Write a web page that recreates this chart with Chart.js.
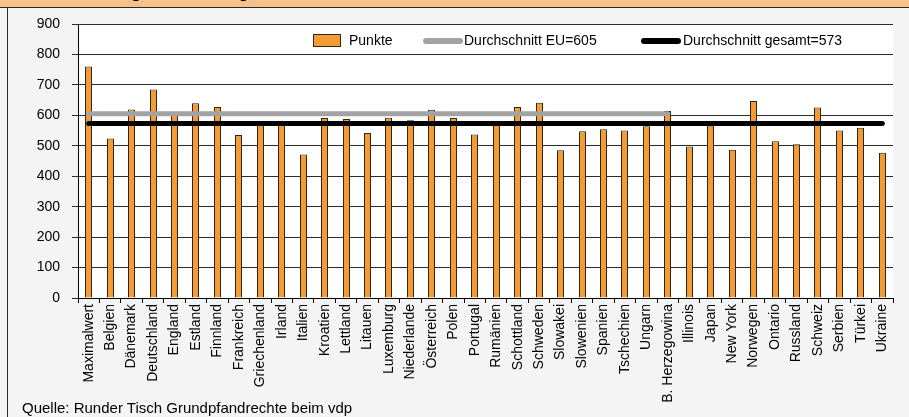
<!DOCTYPE html>
<html lang="de">
<head>
<meta charset="utf-8">
<title>Punkte je Land</title>
<script src="https://cdn.jsdelivr.net/npm/chart.js@4.4.1/dist/chart.umd.min.js"></script>
<style>
  html, body { margin: 0; padding: 0; }
  body { width: 909px; height: 417px; background: #f4f4f4; position: relative; overflow: hidden; font-family: "Liberation Sans", Arial, sans-serif; }
  #kopf { position: absolute; left: 0; top: 0; width: 909px; height: 7px; background: #f8c189; border-bottom: 1px solid #2a2a2a; overflow: hidden; }
  #kopf span { position: absolute; left: 8px; top: -15px; font-weight: bold; font-size: 15px; line-height: 15px; color: #000; white-space: nowrap; }
  #rahmen { position: absolute; left: 7px; top: 8px; width: 0; height: 409px; border-left: 1px solid #2a2a2a; }
  #quelle { position: absolute; left: 22px; top: 400px; font-size: 15px; line-height: 15px; color: #000; white-space: nowrap; }
  #grafik { position: absolute; left: 0; top: 0; }
</style>
</head>
<body>
<div id="kopf"><span>Abb. 4: Bewertung im Ländervergleich</span></div>
<div id="rahmen"></div>
<canvas id="grafik" width="909" height="417"></canvas>
<div id="quelle">Quelle: Runder Tisch Grundpfandrechte beim vdp</div>

<script>
// Laender / Regionen (x-Achse)
const kategorien = [
    "Maximalwert", "Belgien", "Dänemark", "Deutschland", "England", "Estland",
    "Finnland", "Frankreich", "Griechenland", "Irland", "Italien", "Kroatien",
    "Lettland", "Litauen", "Luxemburg", "Niederlande", "Österreich", "Polen",
    "Portugal", "Rumänien", "Schottland", "Schweden", "Slowakei", "Slowenien",
    "Spanien", "Tschechien", "Ungarn", "B. Herzegowina", "Illinois", "Japan",
    "New York", "Norwegen", "Ontario", "Russland", "Schweiz", "Serbien",
    "Türkei", "Ukraine"
];

// Punkte je Land
const punkte = [
    760, 524, 619, 685, 602, 640,
    627, 535, 568, 572, 471, 591,
    588, 542, 592, 584, 618, 591,
    537, 568, 627, 641, 485, 548,
    554, 550, 564, 614, 498, 567,
    487, 647, 515, 505, 626, 550,
    559, 477
];

// Durchschnittswerte
const durchschnittEU = 605;
const durchschnittGesamt = 573;
// die EU-Linie reicht bis einschliesslich dieser Kategorie
const letzteEuKategorie = "B. Herzegowina";

// y-Achse
const yMin = 0;
const yMax = 900;
const ySchritt = 100;

const orange = "#f39b35";
const grau = "#a3a3a3";

const letzterEuIndex = kategorien.indexOf(letzteEuKategorie);
const linieEU = kategorien.map((k, i) => i <= letzterEuIndex ? durchschnittEU : null);
const linieGesamt = kategorien.map(() => durchschnittGesamt);

const labelEU = "Durchschnitt EU=" + durchschnittEU;
const labelGesamt = "Durchschnitt gesamt=" + durchschnittGesamt;

// weisser Hintergrund fuer die Zeichenflaeche
const hintergrund = {
    id: "hintergrund",
    beforeDraw(chart) {
        const { ctx, chartArea } = chart;
        ctx.save();
        ctx.fillStyle = "#ffffff";
        ctx.fillRect(chartArea.left, chartArea.top, chartArea.right - chartArea.left, chartArea.bottom - chartArea.top);
        ctx.restore();
    }
};

// Balken auf ganze Pixel legen, damit die Raender scharf bleiben
const pixelRaster = {
    id: "pixelRaster",
    beforeDatasetsDraw(chart) {
        chart.getSortedVisibleDatasetMetas().forEach(meta => {
            if (meta.type !== "bar") return;
            meta.data.forEach(balken => {
                balken.x = Math.round(balken.x - 0.5) + 0.5;
            });
        });
    }
};

// Legende innerhalb der Zeichenflaeche (wie im Original)
const legende = {
    id: "legende",
    afterDraw(chart) {
        const { ctx, chartArea } = chart;
        const y = chartArea.top + 17;
        const x0 = chartArea.left;
        ctx.save();
        ctx.font = "14px 'Liberation Sans', Arial, sans-serif";
        ctx.textBaseline = "middle";

        // Punkte
        ctx.fillStyle = orange;
        ctx.fillRect(x0 + 235.5, y - 6.5, 27, 12);
        ctx.strokeStyle = "#2e2418";
        ctx.lineWidth = 1;
        ctx.strokeRect(x0 + 235.5, y - 6.5, 27, 12);
        ctx.fillStyle = "#000";
        ctx.fillText("Punkte", x0 + 271, y);

        // Durchschnitt EU
        ctx.lineCap = "round";
        ctx.lineWidth = 6;
        ctx.strokeStyle = grau;
        ctx.beginPath();
        ctx.moveTo(x0 + 348, y);
        ctx.lineTo(x0 + 382, y);
        ctx.stroke();
        ctx.fillText(labelEU, x0 + 386, y);

        // Durchschnitt gesamt
        ctx.strokeStyle = "#000";
        ctx.beginPath();
        ctx.moveTo(x0 + 566, y);
        ctx.lineTo(x0 + 600, y);
        ctx.stroke();
        ctx.fillText(labelGesamt, x0 + 605, y);
        ctx.restore();
    }
};

const ctx = document.getElementById("grafik");

new Chart(ctx, {
    type: "bar",
    data: {
        labels: kategorien,
        datasets: [
            {
                type: "line",
                label: labelEU,
                data: linieEU,
                borderColor: grau,
                borderWidth: 5,
                borderCapStyle: "round",
                pointRadius: 0,
                fill: false,
                order: 0
            },
            {
                type: "line",
                label: labelGesamt,
                data: linieGesamt,
                borderColor: "#000000",
                borderWidth: 5,
                borderCapStyle: "round",
                pointRadius: 0,
                fill: false,
                order: 0
            },
            {
                type: "bar",
                label: "Punkte",
                data: punkte,
                backgroundColor: orange,
                borderColor: "#2e2418",
                borderWidth: 1,
                barThickness: 7,
                inflateAmount: 0,
                order: 1
            }
        ]
    },
    options: {
        responsive: false,
        animation: false,
        devicePixelRatio: 1,
        layout: {
            padding: { left: 0, right: 16, top: 24, bottom: 0 }
        },
        plugins: {
            legend: { display: false },
            tooltip: { enabled: false }
        },
        scales: {
            x: {
                grid: {
                    display: true,
                    drawOnChartArea: false,
                    drawTicks: true,
                    tickLength: 5,
                    color: "#000"
                },
                border: { display: true, color: "#000", width: 1 },
                ticks: {
                    autoSkip: false,
                    minRotation: 90,
                    maxRotation: 90,
                    padding: 1,
                    color: "#000",
                    font: { family: "'Liberation Sans', Arial, sans-serif", size: 14 }
                },
                afterFit(scale) {
                    scale.height = 119;
                }
            },
            y: {
                min: yMin,
                max: yMax,
                ticks: {
                    stepSize: ySchritt,
                    padding: 12,
                    color: "#000",
                    font: { family: "'Liberation Sans', Arial, sans-serif", size: 14 }
                },
                grid: {
                    color: "#2a2a2a",
                    tickLength: 6,
                    lineWidth: 1
                },
                border: { display: true, color: "#000", width: 1 },
                afterFit(scale) {
                    scale.width = 78;
                }
            }
        }
    },
    plugins: [hintergrund, pixelRaster, legende]
});
</script>
</body>
</html>
